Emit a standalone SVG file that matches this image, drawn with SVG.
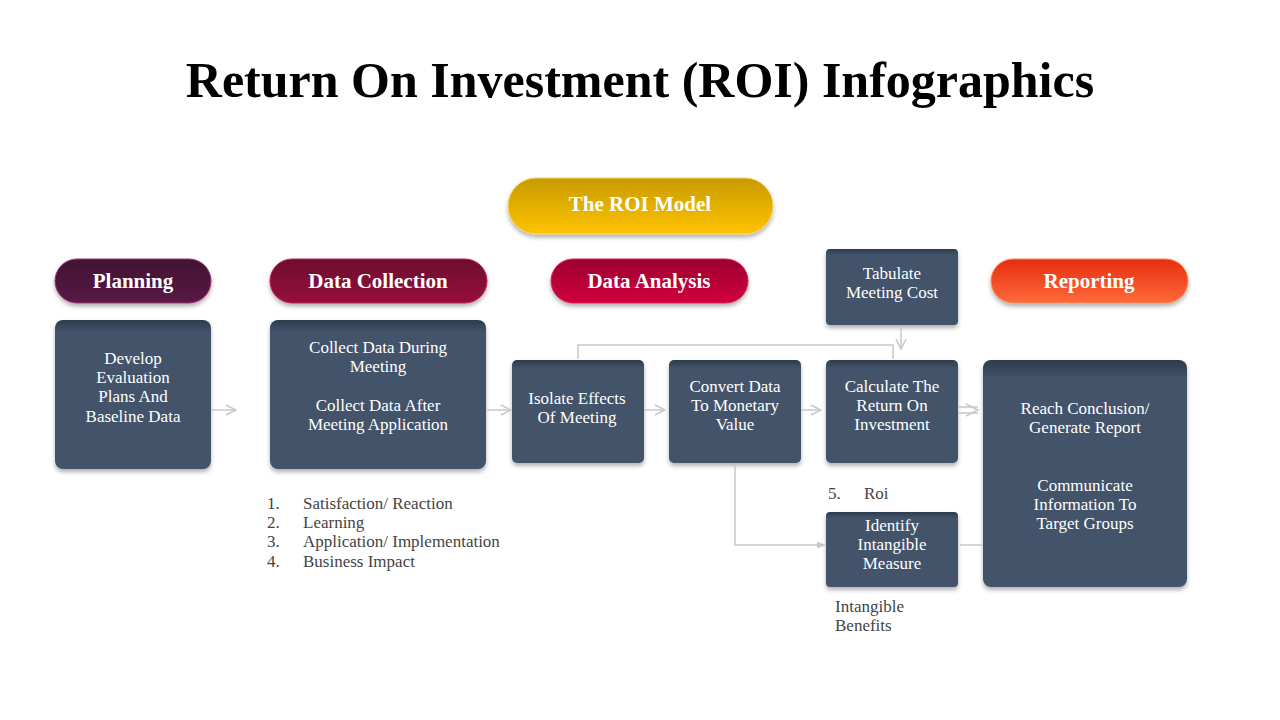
<svg xmlns="http://www.w3.org/2000/svg" width="1280" height="720" viewBox="0 0 1280 720">
<defs>
<linearGradient id="gY" x1="0" y1="0" x2="0" y2="1"><stop offset="0" stop-color="#c79a00"/><stop offset="1" stop-color="#ffc400"/></linearGradient>
<linearGradient id="gP" x1="0" y1="0" x2="0" y2="1"><stop offset="0" stop-color="#3e1230"/><stop offset="1" stop-color="#5a1a46"/></linearGradient>
<linearGradient id="gC" x1="0" y1="0" x2="0" y2="1"><stop offset="0" stop-color="#6e0c2e"/><stop offset="1" stop-color="#970f3e"/></linearGradient>
<linearGradient id="gA" x1="0" y1="0" x2="0" y2="1"><stop offset="0" stop-color="#9c0030"/><stop offset="1" stop-color="#d1003f"/></linearGradient>
<linearGradient id="gR" x1="0" y1="0" x2="0" y2="1"><stop offset="0" stop-color="#e52d10"/><stop offset="1" stop-color="#ff6a3a"/></linearGradient>
<linearGradient id="gB" x1="0" y1="0" x2="0" y2="1"><stop offset="0" stop-color="#2d3b4d"/><stop offset="0.08" stop-color="#43536a"/><stop offset="1" stop-color="#43536a"/></linearGradient>
<filter id="sh" x="-10%" y="-10%" width="120%" height="140%"><feDropShadow dx="0" dy="3" stdDeviation="2" flood-color="#000" flood-opacity="0.3"/></filter>
<marker id="ar" viewBox="0 0 12 12" refX="11" refY="6" markerWidth="12" markerHeight="12" markerUnits="userSpaceOnUse" orient="auto"><path d="M1,1 L11,6 L1,11" fill="none" stroke="#c8c8c8" stroke-width="1.5"/></marker>
<marker id="at" viewBox="0 0 10 10" refX="9" refY="5" markerWidth="9" markerHeight="9" markerUnits="userSpaceOnUse" orient="auto"><path d="M0,1 L10,5 L0,9 Z" fill="#c8c8c8"/></marker>
</defs>
<style>
.t{font-family:"Liberation Serif",serif;fill:#000;font-weight:bold}
.p{font-family:"Liberation Serif",serif;fill:#fff;font-weight:bold;font-size:21px;text-anchor:middle}
.b{font-family:"Liberation Serif",serif;fill:#fff;font-size:17px;text-anchor:middle}
.l{font-family:"Liberation Serif",serif;fill:#444;font-size:17px}
.box{fill:url(#gB);filter:url(#sh)}
.c{fill:none;stroke:#c8c8c8;stroke-width:1.5}
</style>
<text class="t" x="640" y="97" font-size="50" text-anchor="middle">Return On Investment (ROI) Infographics</text>

<g id="roi-model"><rect x="508" y="178" width="265" height="56" rx="28" fill="url(#gY)" stroke="#f3d36a" filter="url(#sh)"/><text class="p" x="640" y="211">The ROI Model</text></g>
<g id="planning"><rect x="55" y="259" width="156" height="44" rx="22" fill="url(#gP)" stroke="#a0307a" filter="url(#sh)"/><text class="p" x="133" y="288">Planning</text></g>
<g id="data-collection"><rect x="270" y="259" width="217" height="44" rx="22" fill="url(#gC)" stroke="#c02050" filter="url(#sh)"/><text class="p" x="378" y="288">Data Collection</text></g>
<g id="data-analysis"><rect x="551" y="259" width="197" height="44" rx="22" fill="url(#gA)" stroke="#e0205a" filter="url(#sh)"/><text class="p" x="649" y="288">Data Analysis</text></g>
<g id="reporting"><rect x="991" y="259" width="197" height="44" rx="22" fill="url(#gR)" stroke="#ff8a60" filter="url(#sh)"/><text class="p" x="1089" y="288">Reporting</text></g>

<g id="develop"><rect class="box" x="55" y="320" width="156" height="149" rx="8"/><text class="b" x="133" y="364">Develop</text><text class="b" x="133" y="383">Evaluation</text><text class="b" x="133" y="402">Plans And</text><text class="b" x="133" y="422">Baseline Data</text></g>
<g id="collect"><rect class="box" x="270" y="320" width="216" height="149" rx="8"/><text class="b" x="378" y="353">Collect Data During</text><text class="b" x="378" y="372">Meeting</text><text class="b" x="378" y="411">Collect Data After</text><text class="b" x="378" y="430">Meeting Application</text></g>
<g id="isolate"><rect class="box" x="512" y="360" width="132" height="103" rx="5"/><text class="b" x="577" y="404">Isolate  Effects</text><text class="b" x="577" y="423">Of Meeting</text></g>
<g id="convert"><rect class="box" x="669" y="360" width="132" height="103" rx="5"/><text class="b" x="735" y="392">Convert Data</text><text class="b" x="735" y="411">To Monetary</text><text class="b" x="735" y="430">Value</text></g>
<g id="calculate"><rect class="box" x="826" y="360" width="132" height="103" rx="5"/><text class="b" x="892" y="392">Calculate The</text><text class="b" x="892" y="411">Return On</text><text class="b" x="892" y="430">Investment</text></g>
<g id="tabulate"><rect class="box" x="826" y="249" width="132" height="76" rx="4"/><text class="b" x="892" y="279">Tabulate</text><text class="b" x="892" y="298">Meeting Cost</text></g>
<g id="identify"><rect class="box" x="826" y="512" width="132" height="75" rx="4"/><text class="b" x="892" y="531">Identify</text><text class="b" x="892" y="550">Intangible</text><text class="b" x="892" y="569">Measure</text></g>
<g id="reach"><rect class="box" x="983" y="360" width="204" height="227" rx="8"/><text class="b" x="1085" y="414">Reach Conclusion/</text><text class="b" x="1085" y="433">Generate Report</text><text class="b" x="1085" y="491">Communicate</text><text class="b" x="1085" y="510">Information To</text><text class="b" x="1085" y="529">Target Groups</text></g>

<g id="labels">
<text class="l" x="267" y="509">1.</text><text class="l" x="303" y="509">Satisfaction/ Reaction</text>
<text class="l" x="267" y="528">2.</text><text class="l" x="303" y="528">Learning</text>
<text class="l" x="267" y="547">3.</text><text class="l" x="303" y="547">Application/ Implementation</text>
<text class="l" x="267" y="567">4.</text><text class="l" x="303" y="567">Business Impact</text>
<text class="l" x="828" y="499">5.</text><text class="l" x="864" y="499">Roi</text>
<text class="l" x="835" y="612">Intangible</text><text class="l" x="835" y="631">Benefits</text>
</g>

<g id="connectors">
<path class="c" d="M212,410 H236" marker-end="url(#ar)"/>
<path class="c" d="M487,410 H511" marker-end="url(#ar)"/>
<path class="c" d="M644,410 H665" marker-end="url(#ar)"/>
<path class="c" d="M801,410 H821" marker-end="url(#ar)"/>
<path class="c" d="M958,407 H978 M958,413 H978"/>
<path class="c" d="M966,404 L978,410 L966,416"/>
<path class="c" d="M578,359 V345 H893 V359"/>
<path class="c" d="M901,326 V349" marker-end="url(#ar)"/>
<path class="c" d="M735,464 V545 H825" marker-end="url(#at)"/>
<path class="c" d="M960,545 H983"/>
</g>
</svg>
